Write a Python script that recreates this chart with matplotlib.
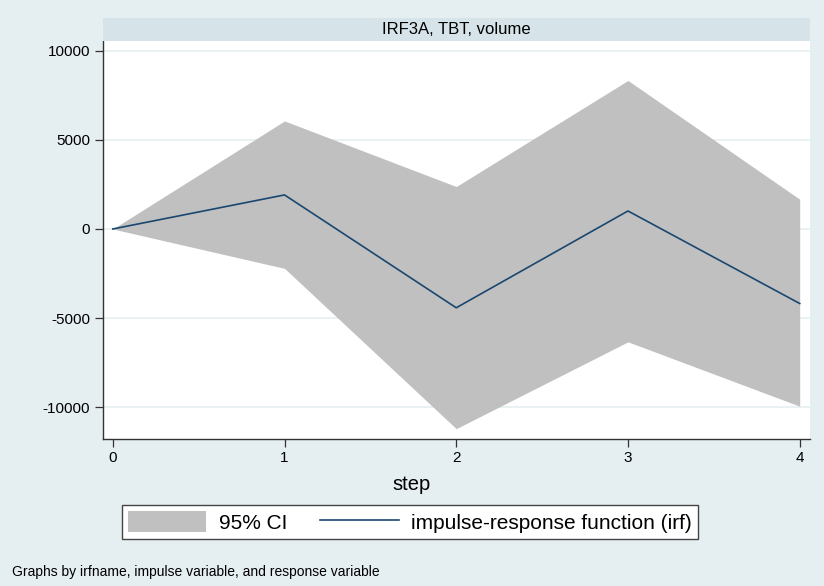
import matplotlib
matplotlib.use("Agg")
import matplotlib.pyplot as plt
from matplotlib.patches import Rectangle, Patch
from matplotlib.lines import Line2D

plt.rcParams['font.family'] = ['Liberation Sans', 'DejaVu Sans']

steps = [0, 1, 2, 3, 4]
irf = [0, 1910, -4420, 1010, -4180]
ci_upper = [0, 6060, 2380, 8330, 1670]
ci_lower = [0, -2210, -11200, -6330, -9940]
yticks = [-10000, -5000, 0, 5000, 10000]
panel_title = "IRF3A, TBT, volume"
xlabel = "step"
legend_labels = ["95% CI", "impulse-response function (irf)"]
note = "Graphs by irfname, impulse variable, and response variable"

W, H = 824, 586
bg = '#E5EEF1'
strip = '#D6E3E9'
ci_col = '#C0C0C0'
line_col = '#1A476F'

fig = plt.figure(figsize=(W/100, H/100), dpi=100, facecolor=bg)

def fx(px): return px / W
def fy(py): return 1 - py / H

left, right, top, bottom = 102.5, 810, 40.7, 439
ax = fig.add_axes([fx(left), fy(bottom), fx(right - left), fy(top) - fy(bottom)])
ax.set_facecolor('white')

ax.fill_between(steps, ci_lower, ci_upper, color=ci_col, linewidth=0, zorder=2)
ax.plot(steps, irf, color=line_col, linewidth=1.2, zorder=3)

ax.set_xlim(-0.06, 4.06)
ax.set_ylim(-11780, 10560)
ax.set_yticks(yticks)
ax.set_yticklabels([str(v) for v in yticks])
ax.set_xticks(steps)
ax.grid(axis='y', color='#E6EFF1', linewidth=1.2, zorder=1)
ax.set_axisbelow(True)
for s in ['top', 'right']:
    ax.spines[s].set_visible(False)
for s in ['left', 'bottom']:
    ax.spines[s].set_color('#333333')
    ax.spines[s].set_linewidth(1.0)
ax.tick_params(axis='both', direction='out', length=6, width=0.9, color='#333333',
               labelsize=11, labelcolor='black', pad=3)

# title strip
fig.patches.append(Rectangle((fx(left), fy(top)), fx(right - left), fy(18) - fy(top),
                             transform=fig.transFigure, facecolor=strip, edgecolor='none'))
fig.text(fx((left + right) / 2), fy(29.5), panel_title, ha='center', va='center', fontsize=12)

fig.text(0.5, fy(485), xlabel, ha='center', va='center', fontsize=14.5)

handles = [Patch(facecolor=ci_col, edgecolor='none'),
           Line2D([0], [0], color=line_col, linewidth=1.2)]
leg = fig.legend(handles, legend_labels, loc='center', bbox_to_anchor=(0.4975, fy(522)),
                 ncol=2, fontsize=15, frameon=True, fancybox=False, framealpha=1,
                 edgecolor='#444444', facecolor='white', handlelength=3.75, handleheight=1.15,
                 handletextpad=0.6, columnspacing=1.6, borderpad=0.3, borderaxespad=0)
leg.get_frame().set_linewidth(1.0)

fig.text(fx(12), fy(572), note, ha='left', va='center', fontsize=10)

fig.savefig('out.png', dpi=100, facecolor=bg)
